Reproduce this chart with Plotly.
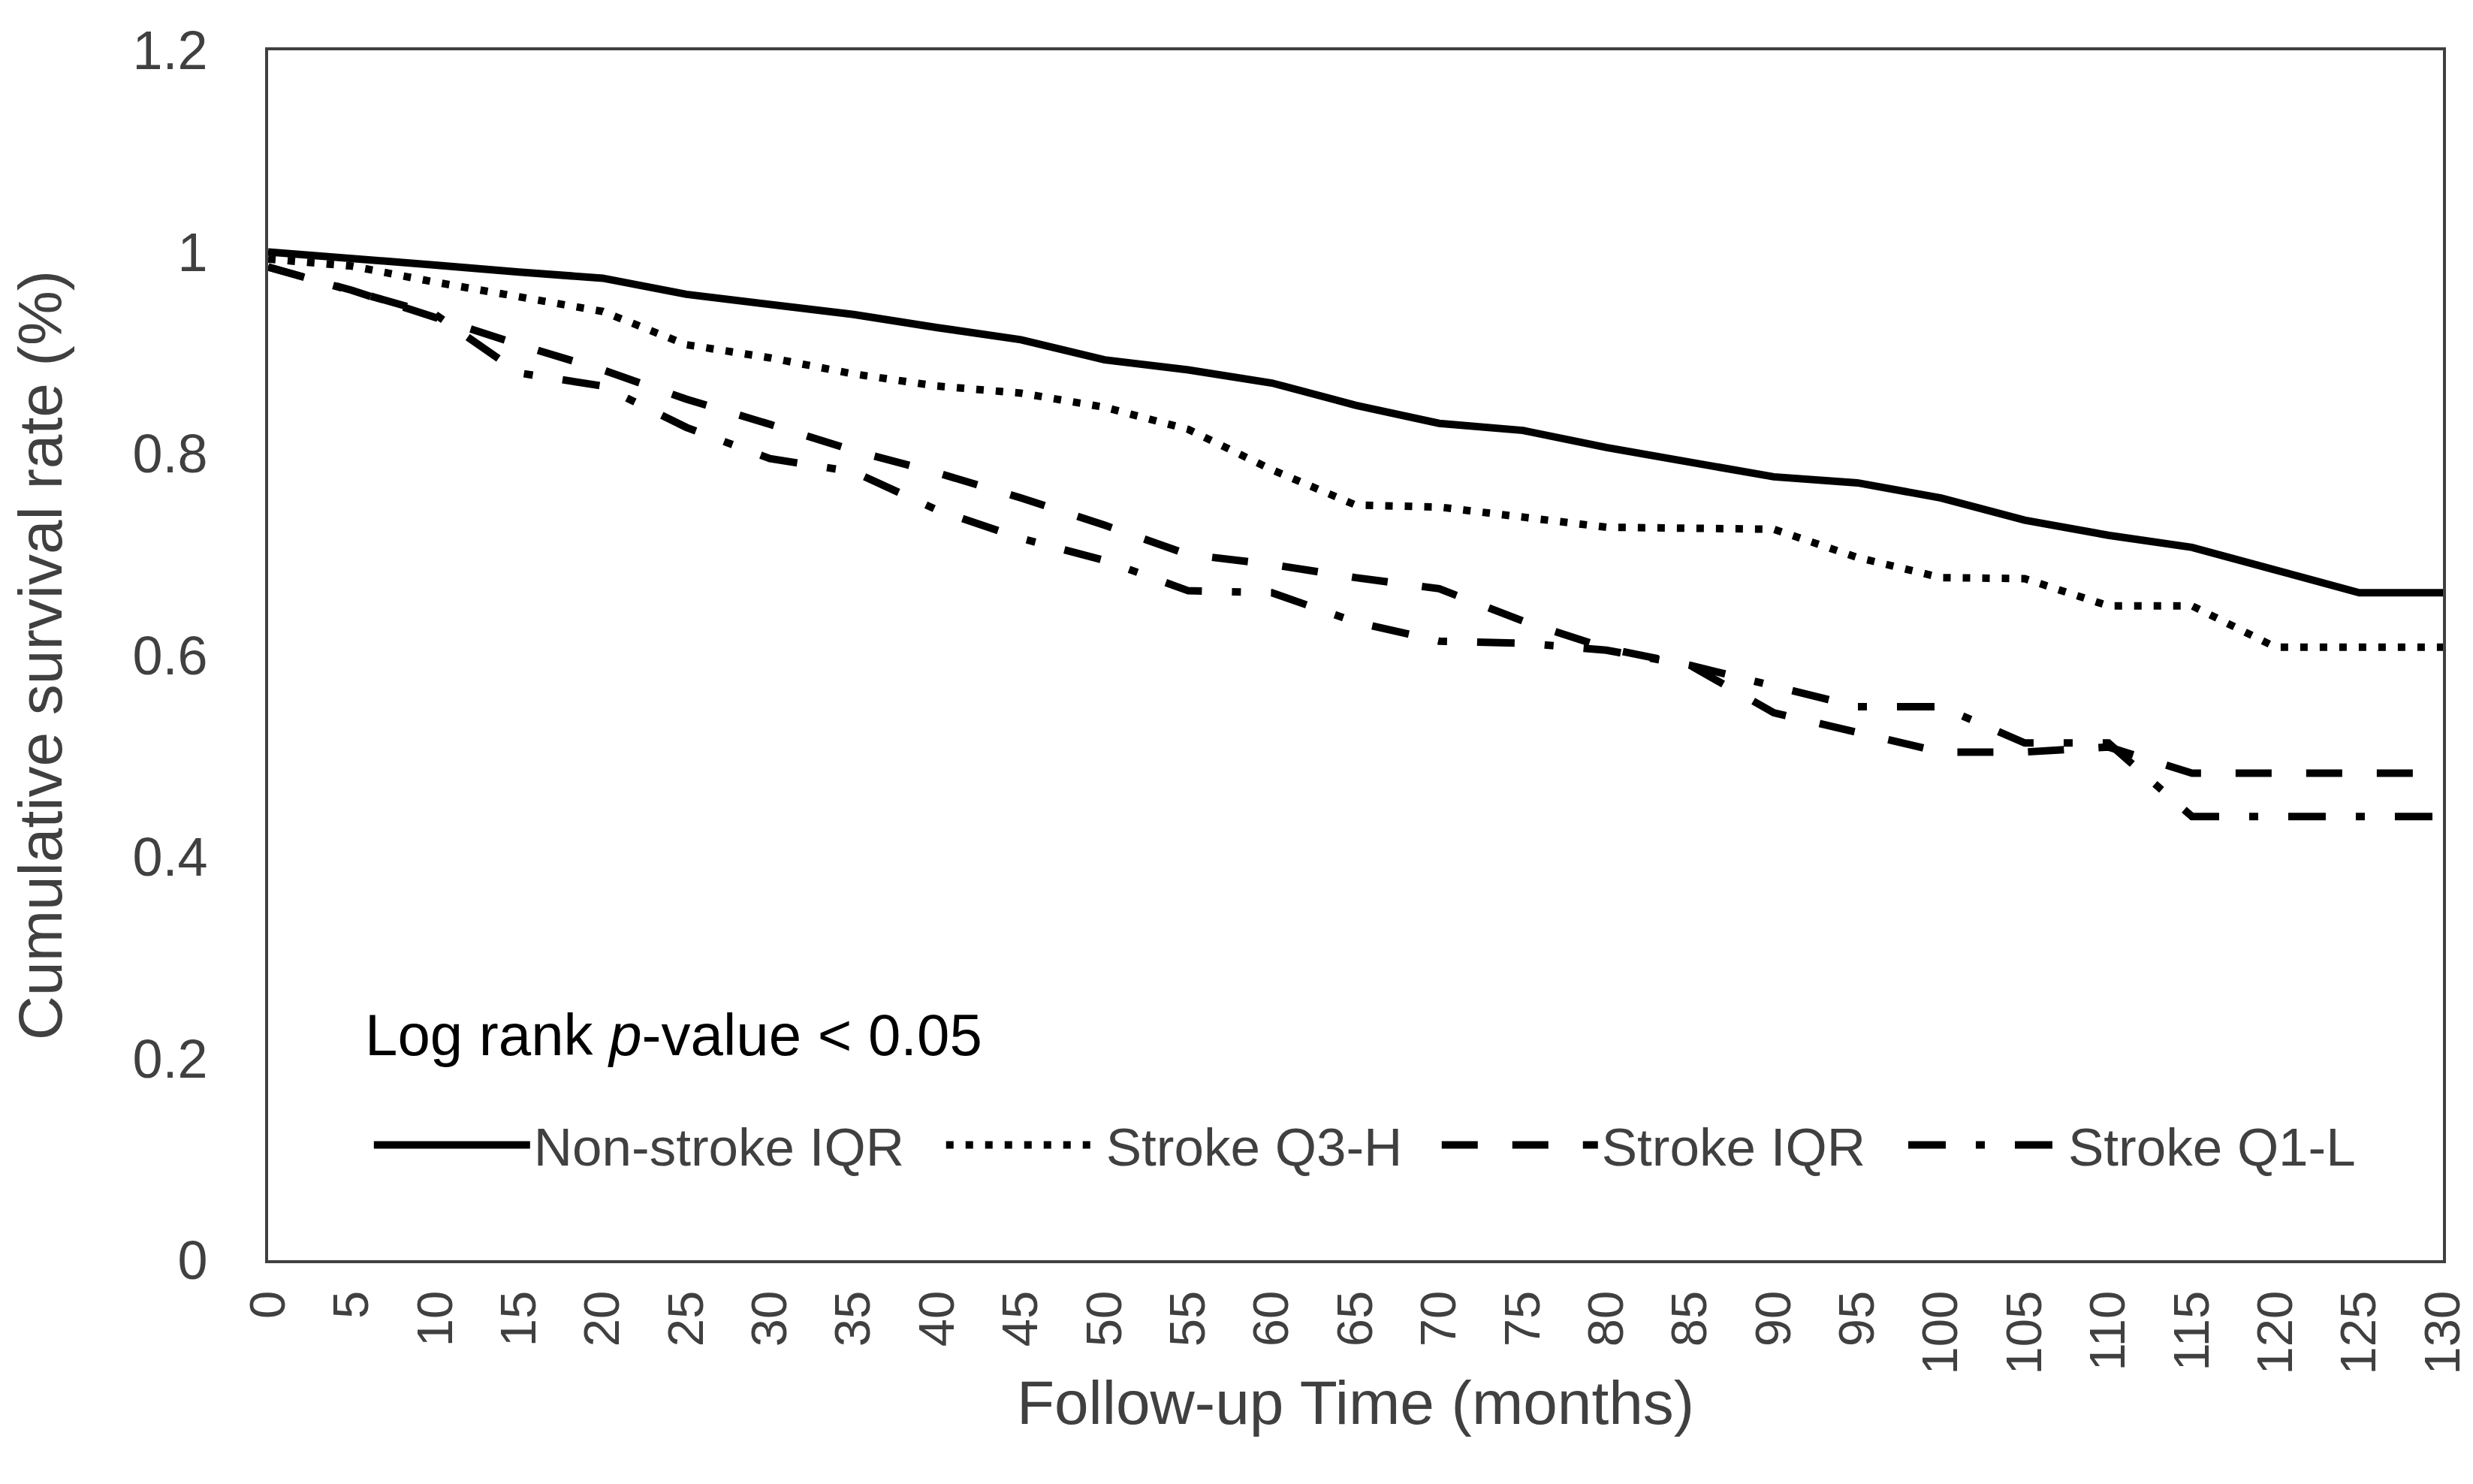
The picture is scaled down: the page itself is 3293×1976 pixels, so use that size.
import plotly.graph_objects as go

months = [0, 5, 10, 15, 20, 25, 30, 35, 40, 45, 50, 55, 60, 65, 70, 75, 80, 85, 90, 95, 100, 105, 110, 115, 120, 125, 130]

non_stroke_iqr = [1.000, 0.994, 0.987, 0.980, 0.974, 0.958, 0.948, 0.938, 0.925, 0.913, 0.893, 0.883, 0.870, 0.848, 0.830,
                  0.823, 0.806, 0.791, 0.777, 0.771, 0.756, 0.734, 0.719, 0.707, 0.685, 0.662, 0.662]
stroke_q3_h = [0.993, 0.986, 0.970, 0.956, 0.941, 0.908, 0.895, 0.879, 0.867, 0.860, 0.846, 0.824, 0.784, 0.749, 0.747,
               0.737, 0.727, 0.726, 0.725, 0.697, 0.677, 0.676, 0.649, 0.649, 0.608, 0.608, 0.608]
stroke_iqr = [0.985, 0.962, 0.935, 0.908, 0.883, 0.854, 0.829, 0.803, 0.781, 0.756, 0.729, 0.700, 0.690, 0.677, 0.666,
              0.634, 0.607, 0.590, 0.543, 0.524, 0.504, 0.504, 0.509, 0.483, 0.483, 0.483, 0.483]
stroke_q1_l = [0.985, 0.962, 0.938, 0.880, 0.867, 0.826, 0.795, 0.782, 0.744, 0.716, 0.694, 0.664, 0.662, 0.633, 0.614,
               0.612, 0.605, 0.590, 0.569, 0.549, 0.549, 0.513, 0.513, 0.440, 0.440, 0.440, 0.440]

series_names = ["Non-stroke IQR", "Stroke Q3-H", "Stroke IQR", "Stroke Q1-L"]
series_values = [non_stroke_iqr, stroke_q3_h, stroke_iqr, stroke_q1_l]
series_dash = ["solid", "10px,16px", "48px,46px", "50px,40px,12px,40px"]
legend_ids = ["legend", "legend2", "legend3", "legend4"]
legend_x = [0.0469, 0.3100, 0.5379, 0.7524]

x_tick_vals = list(range(0, 131, 5))
y_tick_vals = [0, 0.2, 0.4, 0.6, 0.8, 1.0, 1.2]
y_tick_text = ["0", "0.2", "0.4", "0.6", "0.8", "1", "1.2"]

FONT = "Liberation Sans, Arial, sans-serif"
GRAY = "#404040"

fig = go.Figure()
for name, vals, dash, lg in zip(series_names, series_values, series_dash, legend_ids):
    fig.add_trace(go.Scatter(
        x=months, y=vals, name=name, mode="lines", legend=lg,
        line=dict(color="black", width=10, dash=dash),
    ))

legend_common = dict(
    orientation="h", xanchor="left", y=0.095, yanchor="middle",
    font=dict(family=FONT, size=71, color=GRAY),
    itemwidth=208, bgcolor="rgba(0,0,0,0)", borderwidth=0,
)
layout_legends = {lg: dict(x=lx, **legend_common) for lg, lx in zip(legend_ids, legend_x)}

fig.update_layout(
    width=3293, height=1976, autosize=False,
    margin=dict(l=349, r=44, t=59, b=306),
    paper_bgcolor="white", plot_bgcolor="white",
    font=dict(family=FONT, color=GRAY),
    showlegend=True,
    annotations=[dict(
        text="Log rank <i>p</i>-value &lt; 0.05",
        xref="paper", yref="paper", x=0.044, y=0.186,
        xanchor="left", yanchor="middle", showarrow=False,
        font=dict(family=FONT, size=78, color="black"),
    )],
    **layout_legends,
)

fig.update_xaxes(
    range=[0, 130], tickmode="array", tickvals=x_tick_vals,
    ticktext=[str(v) for v in x_tick_vals], tickangle=-90,
    tickfont=dict(family=FONT, size=67, color=GRAY),
    ticks="", ticklabelstandoff=10,
    showgrid=False, zeroline=False,
    showline=True, linecolor=GRAY, linewidth=4, mirror=True,
    title=dict(text="Follow-up Time (months)", font=dict(family=FONT, size=82, color=GRAY), standoff=10),
)
fig.update_yaxes(
    range=[0, 1.2], tickmode="array", tickvals=y_tick_vals, ticktext=y_tick_text,
    tickfont=dict(family=FONT, size=72, color=GRAY),
    ticks="", ticklabelstandoff=62,
    showgrid=False, zeroline=False,
    showline=True, linecolor=GRAY, linewidth=4, mirror=True,
    title=dict(text="Cumulative survival rate (%)", font=dict(family=FONT, size=82, color=GRAY), standoff=70),
)

fig.write_html("out.html")
